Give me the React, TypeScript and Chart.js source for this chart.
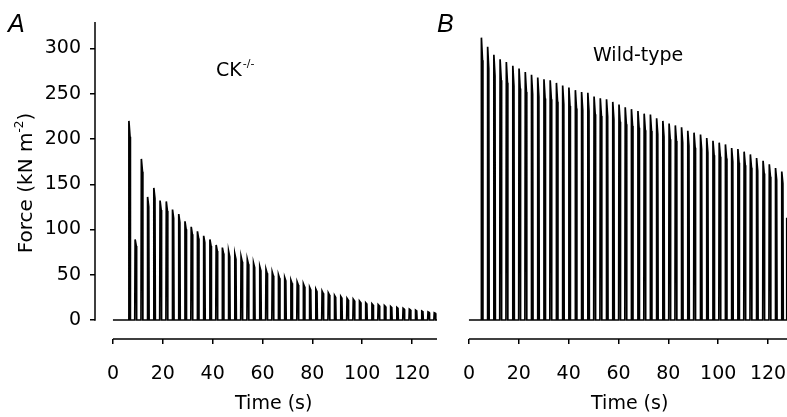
import React, { useEffect, useRef } from "react";
import { Chart, registerables } from "chart.js";

Chart.register(...registerables);

// ---- data ----
const timeTicks = [0, 20, 40, 60, 80, 100, 120];
const forceTicks = [0, 50, 100, 150, 200, 250, 300];

const panelLetters = ["A", "B"];
const ckLabel = "CK";
const ckSup = "-/-";
const wtLabel = "Wild-type";
const xTitle = "Time (s)";
const yTitleMain = "Force (kN m";
const yTitleSup = "-2";
const yTitleEnd = ")";

// CK-/- : tetanus onset times (s) and peak force (kN m-2)
const ckTimes = [
  6.4, 8.9, 11.4, 13.9, 16.4, 18.9, 21.4, 23.9, 26.4, 28.9,
  31.4, 33.9, 36.4, 38.9, 41.4, 43.9, 46.4, 48.9, 51.4, 53.9,
  56.4, 58.9, 61.4, 63.9, 66.4, 68.9, 71.4, 73.9, 76.4, 78.9,
  81.4, 83.9, 86.4, 88.9, 91.4, 93.9, 96.4, 98.9, 101.4, 103.9,
  106.4, 108.9, 111.4, 113.9, 116.4, 118.9, 121.4, 123.9, 126.4, 128.9,
];
const ckPeaks = [
  220, 89, 178, 136, 146, 132, 131, 122, 117, 109,
  103, 98, 93, 89, 83, 80, 76, 73, 70, 67,
  63, 59, 56, 53, 50, 47, 44, 42, 40, 36,
  34, 32, 30, 27, 26, 24, 23, 21, 19, 18,
  17, 16, 15, 14, 13, 12, 11, 10, 9, 8,
];

// Wild-type
const wtTimes = [
  5.0, 7.5, 10.0, 12.5, 15.0, 17.6, 20.1, 22.6, 25.1, 27.6,
  30.1, 32.6, 35.1, 37.6, 40.1, 42.7, 45.2, 47.7, 50.2, 52.7,
  55.2, 57.7, 60.2, 62.7, 65.2, 67.8, 70.3, 72.8, 75.3, 77.8,
  80.3, 82.8, 85.3, 87.8, 90.3, 92.9, 95.4, 97.9, 100.4, 102.9,
  105.4, 107.9, 110.4, 112.9, 115.4, 118.0, 120.5, 123.0, 125.5, 127.5,
];
const wtPeaks = [
  312, 302, 293, 288, 285, 281, 278, 274, 271, 268,
  266, 265, 262, 259, 257, 254, 252, 251, 247, 245,
  244, 241, 238, 235, 233, 231, 228, 227, 223, 220,
  217, 215, 213, 209, 207, 205, 201, 198, 196, 194,
  190, 189, 186, 183, 179, 176, 172, 168, 164, 113,
];

const xMin = -7.2;
const ckXMax = 130;
const wtXMax = 127.6;
const yMin = -21;
const yMax = 329.3;
const xTitleCenter = 64.5;

const FONT = "'DejaVu Sans', 'Liberation Sans', Arial, sans-serif";

function buildTrace(times: number[], peaks: number[], end: number) {
  const pts: { x: number; y: number }[] = [{ x: 0, y: 0 }];
  times.forEach((t, i) => {
    const p = peaks[i];
    pts.push({ x: t - 0.15, y: 0 });
    pts.push({ x: t, y: p });
    pts.push({ x: t + 0.45, y: p * 0.92 });
    pts.push({ x: t + 0.6, y: 0 });
  });
  pts.push({ x: end, y: 0 });
  return pts;
}

const axesPlugin = {
  id: "offsetAxes",
  afterDraw(chart: any, _args: any, opts: any) {
    const { ctx, chartArea, scales } = chart;
    const x = scales.x;
    const y = scales.y;
    ctx.save();
    ctx.strokeStyle = "#000";
    ctx.lineWidth = 1.5;
    ctx.beginPath();
    ctx.moveTo(x.getPixelForValue(0), chartArea.bottom);
    ctx.lineTo(x.getPixelForValue(opts.xEnd), chartArea.bottom);
    if (opts.yAxis) {
      ctx.moveTo(chartArea.left, y.getPixelForValue(0) + 0.75);
      ctx.lineTo(chartArea.left, chartArea.top);
    }
    ctx.stroke();

    ctx.fillStyle = "#000";
    ctx.textBaseline = "alphabetic";
    ctx.textAlign = "left";
    // panel letter
    ctx.font = `italic 25px 'Liberation Sans', Arial, sans-serif`;
    ctx.fillText(opts.letter, opts.letterX, 32);

    // x title
    ctx.font = `19px ${FONT}`;
    ctx.textAlign = "center";
    ctx.fillText(xTitle, x.getPixelForValue(xTitleCenter), 409);
    ctx.textAlign = "left";

    if (opts.yAxis) {
      // y title with superscript
      ctx.save();
      ctx.translate(25, 183);
      ctx.rotate(-Math.PI / 2);
      ctx.font = `20px ${FONT}`;
      const w1 = ctx.measureText(yTitleMain).width;
      const w3 = ctx.measureText(yTitleEnd).width;
      ctx.font = `12px ${FONT}`;
      const w2 = ctx.measureText(yTitleSup).width;
      let cx = -(w1 + w2 + w3) / 2;
      ctx.font = `20px ${FONT}`;
      ctx.fillText(yTitleMain, cx, 7);
      cx += w1;
      ctx.font = `12px ${FONT}`;
      ctx.fillText(yTitleSup, cx, -2);
      cx += w2;
      ctx.font = `20px ${FONT}`;
      ctx.fillText(yTitleEnd, cx, 7);
      ctx.restore();

      // CK-/- label
      ctx.font = `19px ${FONT}`;
      ctx.fillText(ckLabel, 216 - opts.offsetX, 76);
      const wc = ctx.measureText(ckLabel).width;
      ctx.font = `11px ${FONT}`;
      ctx.fillText(ckSup, 216 - opts.offsetX + wc + 1, 67);
    } else {
      ctx.font = `19px ${FONT}`;
      ctx.fillText(wtLabel, 593 - opts.offsetX, 61);
    }
    ctx.restore();
  },
};

function makeConfig(
  data: { x: number; y: number }[],
  xMax: number,
  showY: boolean,
  padLeft: number,
  padRight: number,
  letter: string,
  letterX: number,
  offsetX: number
): any {
  return {
    type: "line",
    data: {
      datasets: [
        {
          data,
          borderColor: "#000",
          borderWidth: 1.7,
          pointRadius: 0,
          tension: 0,
          fill: false,
        },
      ],
    },
    options: {
      animation: false,
      responsive: false,
      devicePixelRatio: 1,
      layout: { autoPadding: false, padding: { top: 22, left: padLeft, right: padRight, bottom: 0 } },
      plugins: {
        legend: { display: false },
        tooltip: { enabled: false },
        offsetAxes: { xEnd: xMax, yAxis: showY, letter, letterX, offsetX },
      },
      scales: {
        x: {
          type: "linear",
          min: xMin,
          max: xMax,
          afterBuildTicks: (s: any) => {
            s.ticks = timeTicks.map((v) => ({ value: v }));
          },
          afterFit: (s: any) => {
            s.height = 78;
            s.paddingLeft = 0;
            s.paddingRight = 0;
            s.paddingTop = 0;
            s.paddingBottom = 0;
          },
          grid: {
            display: true,
            drawOnChartArea: false,
            drawTicks: true,
            tickLength: 5,
            color: "#000",
            lineWidth: 1.5,
          },
          border: { display: false },
          ticks: {
            color: "#000",
            font: { family: FONT, size: 19 },
            padding: 19,
            maxRotation: 0,
            autoSkip: false,
          },
          title: { display: false },
        },
        y: {
          type: "linear",
          display: showY,
          min: yMin,
          max: yMax,
          afterBuildTicks: (s: any) => {
            s.ticks = forceTicks.map((v) => ({ value: v }));
          },
          afterFit: (s: any) => {
            s.width = showY ? 95 : 0;
            s.paddingLeft = 0;
            s.paddingRight = 0;
            s.paddingTop = 0;
            s.paddingBottom = 0;
          },
          grid: {
            display: true,
            drawOnChartArea: false,
            drawTicks: true,
            tickLength: 5,
            color: "#000",
            lineWidth: 1.5,
          },
          border: { display: false },
          ticks: {
            color: "#000",
            font: { family: FONT, size: 19 },
            padding: 9,
          },
        },
      },
    },
    plugins: [axesPlugin],
  };
}

export default function App() {
  const refA = useRef<HTMLCanvasElement>(null);
  const refB = useRef<HTMLCanvasElement>(null);

  useEffect(() => {
    const chartA = new Chart(
      refA.current as HTMLCanvasElement,
      makeConfig(buildTrace(ckTimes, ckPeaks, ckXMax), ckXMax, true, 0, 8, panelLetters[0], 8, 0)
    );
    const chartB = new Chart(
      refB.current as HTMLCanvasElement,
      makeConfig(buildTrace(wtTimes, wtPeaks, wtXMax), wtXMax, false, 21, 0, panelLetters[1], 7, 430)
    );
    return () => {
      chartA.destroy();
      chartB.destroy();
    };
  }, []);

  return (
    <div style={{ position: "fixed", left: 0, top: 0, width: 787, height: 417, background: "#fff" }}>
      <canvas ref={refA} width={445} height={417} style={{ position: "absolute", left: 0, top: 0 }} />
      <canvas ref={refB} width={357} height={417} style={{ position: "absolute", left: 430, top: 0 }} />
    </div>
  );
}
